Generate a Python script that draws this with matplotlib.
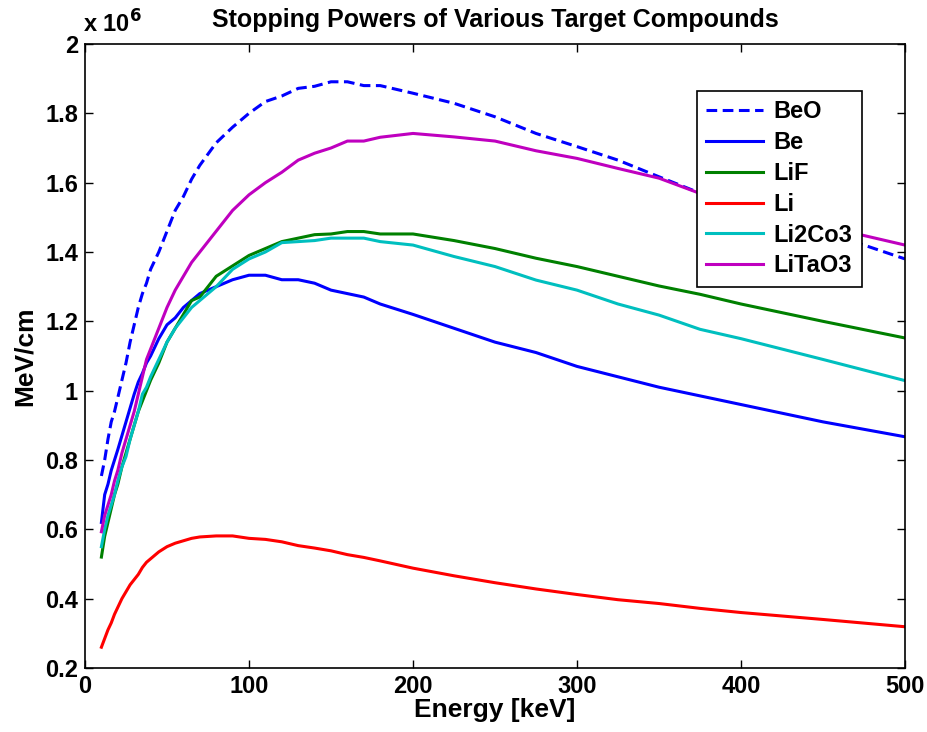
import matplotlib
matplotlib.use("Agg")
import matplotlib.pyplot as plt
from matplotlib.ticker import FixedLocator, FixedFormatter

plt.rcParams['font.family'] = ['Liberation Sans', 'DejaVu Sans']
plt.rcParams['font.weight'] = 'bold'

# energy grid, keV
energy = [10, 12, 14, 16, 18, 20, 22.5, 25, 27.5, 30, 32.5, 35, 37.5, 40, 45, 50,
          55, 60, 65, 70, 80, 90, 100, 110, 120, 130, 140, 150, 160, 170, 180,
          200, 225, 250, 275, 300, 325, 350, 375, 400, 450, 500]

# stopping powers, units of 1e6 MeV/cm
beo = [0.754, 0.80, 0.86, 0.91, 0.94, 0.98, 1.03, 1.08, 1.14, 1.19, 1.24, 1.28, 1.31,
       1.35, 1.40, 1.46, 1.52, 1.56, 1.61, 1.65, 1.715, 1.76, 1.80, 1.834, 1.85,
       1.872, 1.878, 1.891, 1.891, 1.88, 1.88, 1.858, 1.829, 1.79, 1.742, 1.704,
       1.665, 1.617, 1.57, 1.535, 1.46, 1.38]
be = [0.62, 0.70, 0.73, 0.77, 0.80, 0.83, 0.87, 0.91, 0.95, 0.99, 1.025, 1.05, 1.08,
      1.10, 1.15, 1.19, 1.21, 1.24, 1.26, 1.28, 1.30, 1.32, 1.333, 1.333, 1.32,
      1.32, 1.31, 1.29, 1.28, 1.27, 1.25, 1.22, 1.18, 1.14, 1.11, 1.07, 1.04,
      1.01, 0.985, 0.96, 0.91, 0.867]
lif = [0.52, 0.58, 0.62, 0.66, 0.70, 0.73, 0.78, 0.82, 0.86, 0.90, 0.94, 0.97, 1.00,
       1.03, 1.08, 1.14, 1.18, 1.22, 1.26, 1.27, 1.33, 1.36, 1.39, 1.41, 1.43,
       1.44, 1.45, 1.452, 1.459, 1.459, 1.452, 1.452, 1.433, 1.41, 1.382, 1.358,
       1.33, 1.302, 1.278, 1.25, 1.20, 1.152]
li = [0.26, 0.285, 0.31, 0.33, 0.355, 0.375, 0.40, 0.42, 0.44, 0.455, 0.47, 0.49,
      0.505, 0.515, 0.535, 0.55, 0.56, 0.567, 0.574, 0.578, 0.581, 0.581, 0.574,
      0.571, 0.564, 0.553, 0.546, 0.538, 0.527, 0.519, 0.509, 0.488, 0.466,
      0.446, 0.428, 0.412, 0.397, 0.386, 0.372, 0.36, 0.34, 0.319]
li2co3 = [0.55, 0.60, 0.64, 0.67, 0.70, 0.74, 0.78, 0.81, 0.86, 0.90, 0.94, 0.99,
          1.01, 1.04, 1.09, 1.14, 1.18, 1.21, 1.24, 1.26, 1.30, 1.35, 1.38, 1.40,
          1.427, 1.43, 1.433, 1.44, 1.44, 1.44, 1.43, 1.42, 1.387, 1.358, 1.319,
          1.29, 1.25, 1.218, 1.177, 1.15, 1.09, 1.029]
litao3 = [0.593, 0.64, 0.67, 0.70, 0.74, 0.77, 0.82, 0.86, 0.90, 0.94, 0.99, 1.04,
          1.09, 1.12, 1.18, 1.24, 1.29, 1.33, 1.37, 1.40, 1.46, 1.52, 1.565, 1.60,
          1.63, 1.665, 1.685, 1.70, 1.72, 1.72, 1.731, 1.742, 1.732, 1.72, 1.692,
          1.67, 1.641, 1.613, 1.569, 1.53, 1.475, 1.42]

yticks = [0.2, 0.4, 0.6, 0.8, 1.0, 1.2, 1.4, 1.6, 1.8, 2.0]
ytick_labels = ['0.2', '0.4', '0.6', '0.8', '1', '1.2', '1.4', '1.6', '1.8', '2']
xticks = [0, 100, 200, 300, 400, 500]

fig = plt.figure(figsize=(9.27, 7.32), dpi=100)
ax = fig.add_axes([85 / 927, 64 / 732, 820 / 927, 624 / 732])

lw = 2.2
ax.plot(energy, beo, color=(0, 0, 1), lw=lw, ls=(0, (3.5, 1.8)), label='BeO')
ax.plot(energy, be, color=(0, 0, 1), lw=lw, label='Be')
ax.plot(energy, lif, color=(0, 0.5, 0), lw=lw, label='LiF')
ax.plot(energy, li, color=(1, 0, 0), lw=lw, label='Li')
ax.plot(energy, li2co3, color=(0, 0.75, 0.75), lw=lw, label='Li2Co3')
ax.plot(energy, litao3, color=(0.75, 0, 0.75), lw=lw, label='LiTaO3')

ax.set_xlim(0, 500)
ax.set_ylim(0.2, 2.0)
ax.xaxis.set_major_locator(FixedLocator(xticks))
ax.yaxis.set_major_locator(FixedLocator(yticks))
ax.yaxis.set_major_formatter(FixedFormatter(ytick_labels))
ax.tick_params(direction='in', length=6, width=1, top=True, right=True,
               labelsize=17, pad=5)
for lab in ax.get_xticklabels() + ax.get_yticklabels():
    lab.set_fontweight('bold')
for s in ax.spines.values():
    s.set_linewidth(1.2)

ax.set_xlabel('Energy [keV]', fontsize=19, fontweight='bold', labelpad=0)
ax.set_ylabel('MeV/cm', fontsize=19, fontweight='bold', labelpad=6)
ax.set_title('Stopping Powers of Various Target Compounds', fontsize=18,
             fontweight='bold', pad=12)
ax.text(-0.003, 1.01, r'x 10$^{6}$', transform=ax.transAxes, fontsize=17,
        fontweight='bold', ha='left', va='bottom')

leg = ax.legend(loc='upper right', bbox_to_anchor=(0.9476, 0.9247), fontsize=17,
                handlelength=2.4, handletextpad=0.45, labelspacing=0.33,
                borderpad=0.4, fancybox=False, framealpha=1, borderaxespad=0)
leg.get_frame().set_edgecolor('black')
leg.get_frame().set_linewidth(1.2)
for t in leg.get_texts():
    t.set_fontweight('bold')

fig.savefig('out.png', dpi=100)
